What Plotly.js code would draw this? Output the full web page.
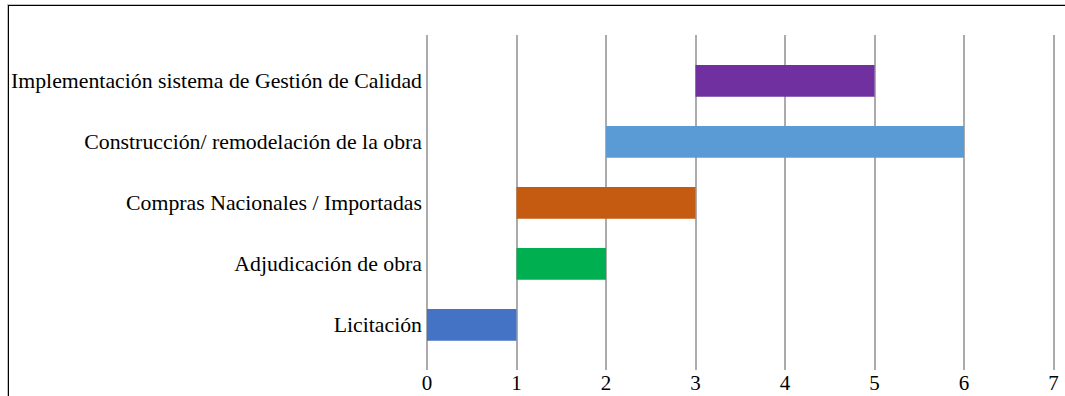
<!DOCTYPE html>
<html>
<head>
<meta charset="utf-8">
<script src="https://cdn.plot.ly/plotly-3.0.1.min.js"></script>
<style>
  html, body { margin: 0; padding: 0; background: #fff; }
  #wrap { position: relative; width: 1065px; height: 396px; overflow: hidden; }
  #chart { position: absolute; left: 0; top: 0; width: 1065px; height: 396px; }
  #frame { position: absolute; left: 8px; top: 5px; width: 1100px; height: 500px;
           border-top: 1px solid #000; border-left: 1px solid #000;
           box-shadow: -1px -1px 0 #c0c0c0; pointer-events: none; }
</style>
</head>
<body>
<div id="wrap">
  <div id="chart"></div>
  <div id="frame"></div>
</div>
<script>
// Tasks (bottom to top)
const tasks = [
  "Licitación",
  "Adjudicación de obra",
  "Compras Nacionales / Importadas",
  "Construcción/ remodelación de la obra",
  "Implementación sistema de Gestión de Calidad"
];
const starts    = [0, 1, 1, 2, 3];
const durations = [1, 1, 2, 4, 2];
const colors    = ["#4472C4", "#00B050", "#C55A11", "#5B9BD5", "#7030A0"];
const xTicks    = [0, 1, 2, 3, 4, 5, 6, 7];

const trace = {
  type: "bar",
  orientation: "h",
  y: tasks,
  x: durations,
  base: starts,
  width: 0.52,
  marker: { color: colors, line: { width: 0 } },
  hoverinfo: "skip"
};

const layout = {
  width: 1065,
  height: 396,
  margin: { l: 427, r: 6.5, t: 35, b: 26, pad: 0 },
  paper_bgcolor: "#ffffff",
  plot_bgcolor: "#ffffff",
  showlegend: false,
  font: { family: "Liberation Serif, Times New Roman, serif", size: 21.8, color: "#000" },
  xaxis: {
    range: [0, 7.05],
    tickvals: xTicks,
    ticktext: xTicks.map(String),
    showgrid: true,
    gridcolor: "#ABABAB",
    gridwidth: 2,
    zeroline: true,
    zerolinecolor: "#ABABAB",
    zerolinewidth: 2,
    showline: false,
    ticks: "",
    ticklabelstandoff: -2,
    layer: "above traces",
    tickfont: { size: 21, color: "#000" },
    fixedrange: true
  },
  yaxis: {
    type: "category",
    categoryorder: "array",
    categoryarray: tasks,
    range: [-0.74, 4.75],
    showgrid: false,
    zeroline: false,
    showline: false,
    ticks: "",
    ticklabelstandoff: 4,
    tickfont: { size: 21.8, color: "#000" },
    fixedrange: true
  },
  bargap: 0.48
};

Plotly.newPlot("chart", [trace], layout, { displayModeBar: false, staticPlot: true });
</script>
</body>
</html>
